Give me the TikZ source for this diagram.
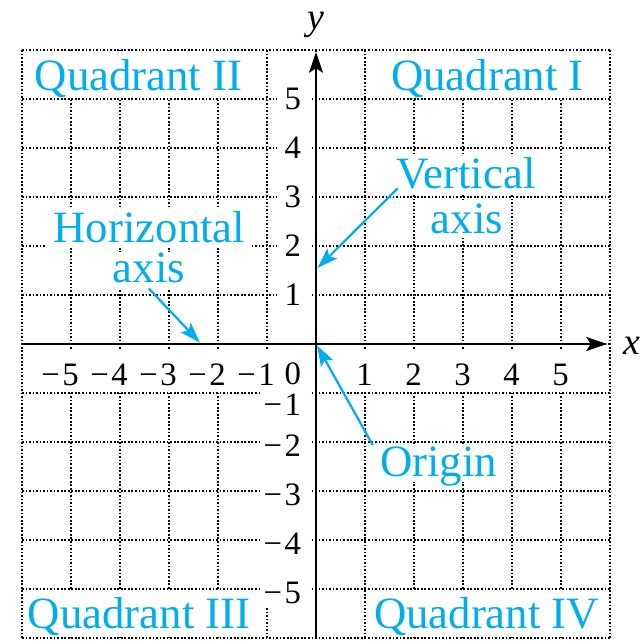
\documentclass[tikz,border=0pt]{standalone}
\usepackage{fontspec}
\setmainfont{Liberation Serif}
\usetikzlibrary{arrows.meta}
\definecolor{qcyan}{RGB}{0,174,239}
\newcommand{\negnum}[1]{−\kern1.5pt#1}
\begin{document}
\begin{tikzpicture}[
  gridline/.style={line width=1pt, dash pattern=on 1pt off 1.05pt, black},
  axisline/.style={line width=1.7pt, black, -{Stealth[length=12pt,width=8pt,inset=2.5pt]}},
  ticklbl/.style={anchor=east, inner sep=0pt, font=\fontsize{19}{22}\selectfont},
  axlbl/.style={anchor=base, inner sep=0pt, font=\fontsize{22}{26}\selectfont\itshape},
  quadlbl/.style={anchor=base, inner sep=0pt, text=qcyan, font=\fontsize{26}{30}\selectfont},
  calllbl/.style={anchor=base, fill=white, inner xsep=4pt, inner ysep=1pt, text depth=0.2em, text=qcyan, font=\fontsize{26}{30}\selectfont},
  callarrow/.style={line width=1.3pt, qcyan, -{Stealth[length=12pt,width=8pt,inset=2.5pt]}}
]
\useasboundingbox (-6.449,-6.082) rectangle (6.673,7.020);
% grid
\draw[gridline] (-6,-6) grid (6,6);
% blanked regions
\fill[white] (-5.98,5.02) rectangle (-1.02,5.98);
\fill[white] (1.02,5.02) rectangle (5.98,5.98);
\fill[white] (-5.98,-5.98) rectangle (-1.02,-5.02);
\fill[white] (1.02,-5.98) rectangle (5.98,-5.02);
\fill[white] (-5.8,-0.13) rectangle (5.5,-0.95);
\fill[white] (-0.8,0.7) rectangle (-0.13,5.3);
\fill[white] (-1.15,-0.97) rectangle (-0.13,-5.35);
% axes
\coordinate (xl) at (-6,0);
\coordinate (xr) at (5.94,0);
\coordinate (yb) at (0,-6);
\coordinate (yt) at (0,5.96);
\draw[axisline] (xl) -- (xr);
\draw[axisline] (yb) -- (yt);
\node[axlbl] (xlab) at (6.45,-0.22) {x};
\node[axlbl] (ylab) at (0,6.41) {y};
% tick labels
\foreach \i in {1,...,5} {
  \node[ticklbl] (xp\i) at (\i+0.165,-0.63) {\i};
  \node[ticklbl] (xm\i) at (-\i+0.165,-0.63) {\negnum{\i}};
  \node[ticklbl] (yp\i) at (-0.30,\i) {\i};
}
\node[ticklbl] (xz) at (-0.30,-0.60) {0};
\node[ticklbl] (ym1) at (-0.30,-1.23) {\negnum{1}};
\foreach \i in {2,...,5} {
  \node[ticklbl] (ym\i) at (-0.30,-\i-0.08) {\negnum{\i}};
}
% quadrant labels
\node[quadlbl] (q2) at (-3.62,5.17) {Quadrant II};
\node[quadlbl] (q1) at (3.50,5.17) {Quadrant I};
\node[quadlbl] (q3) at (-3.61,-5.80) {Quadrant III};
\node[quadlbl] (q4) at (3.48,-5.80) {Quadrant IV};
% callouts
\node[calllbl] (hz1) at (-3.40,2.08) {Horizontal};
\node[calllbl] (hz2) at (-3.41,1.245) {axis};
\node[calllbl] (vt1) at (3.06,3.18) {Vertical};
\node[calllbl] (vt2) at (3.08,2.265) {axis};
\node[calllbl] (org) at (2.50,-2.71) {Origin};
\coordinate (htip) at (-2.37,0.03);
\coordinate (vstart) at (1.67,3.18);
\coordinate (vtip) at (0.03,1.55);
\coordinate (otip) at (0.02,-0.03);
\draw[callarrow] (hz2.south) -- (htip);
\draw[callarrow] (vstart) -- (vtip);
\draw[callarrow] (org.north west) -- (otip);
\end{tikzpicture}
\end{document}
